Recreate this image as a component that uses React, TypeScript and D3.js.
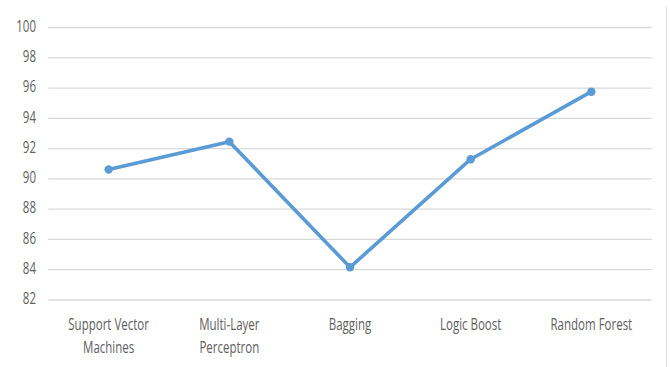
import React from "react";
import * as d3 from "d3";

const categories: string[][] = [
  ["Support Vector", "Machines"],
  ["Multi-Layer", "Perceptron"],
  ["Bagging"],
  ["Logic Boost"],
  ["Random Forest"],
];
const values: number[] = [90.62, 92.46, 84.16, 91.3, 95.76];
const yTicks: number[] = [82, 84, 86, 88, 90, 92, 94, 96, 98, 100];

const W = 670;
const H = 367;
const plotLeft = 48.3;
const plotRight = 651.7;
const plotTop = 27.5;
const plotBottom = 300;
const SY = 1.35;
const font = "'Open Sans', sans-serif";
const textColor = "#606060";

export default function App() {
  const x = d3
    .scaleBand<number>()
    .domain(values.map((_, i) => i))
    .range([plotLeft, plotRight]);
  const y = d3.scaleLinear().domain([82, 100]).range([plotBottom, plotTop]);
  const cx = (i: number) => (x(i) as number) + x.bandwidth() / 2;
  const line = d3
    .line<number>()
    .x((_, i) => cx(i))
    .y((d) => y(d));

  return (
    <svg
      width={W}
      height={H}
      style={{ position: "absolute", left: 0, top: 0, background: "#fff" }}
    >
      <line x1={666.5} x2={666.5} y1={6} y2={H} stroke="#E3E3E3" strokeWidth={1.2} />
      {yTicks.map((t) => (
        <g key={t}>
          <line
            x1={plotLeft}
            x2={plotRight}
            y1={y(t)}
            y2={y(t)}
            stroke="#D9D9D9"
            strokeWidth={1.3}
          />
          <text
            transform={`translate(36,${y(t) + 4.2}) scale(1,${SY})`}
            textAnchor="end"
            fontFamily={font}
            fontSize={11.5}
            fill={textColor}
          >
            {t}
          </text>
        </g>
      ))}
      <path
        d={line(values) || ""}
        fill="none"
        stroke="#5B9BD5"
        strokeWidth={3.6}
        strokeLinejoin="round"
      />
      {values.map((v, i) => (
        <circle key={i} cx={cx(i)} cy={y(v)} r={4.2} fill="#5B9BD5" />
      ))}
      {categories.map((lines, i) =>
        lines.map((s, j) => (
          <text
            key={`${i}-${j}`}
            transform={`translate(${cx(i)},${330 + j * 22.5}) scale(1,${SY})`}
            textAnchor="middle"
            fontFamily={font}
            fontSize={11.5}
            fill={textColor}
          >
            {s}
          </text>
        ))
      )}
    </svg>
  );
}
